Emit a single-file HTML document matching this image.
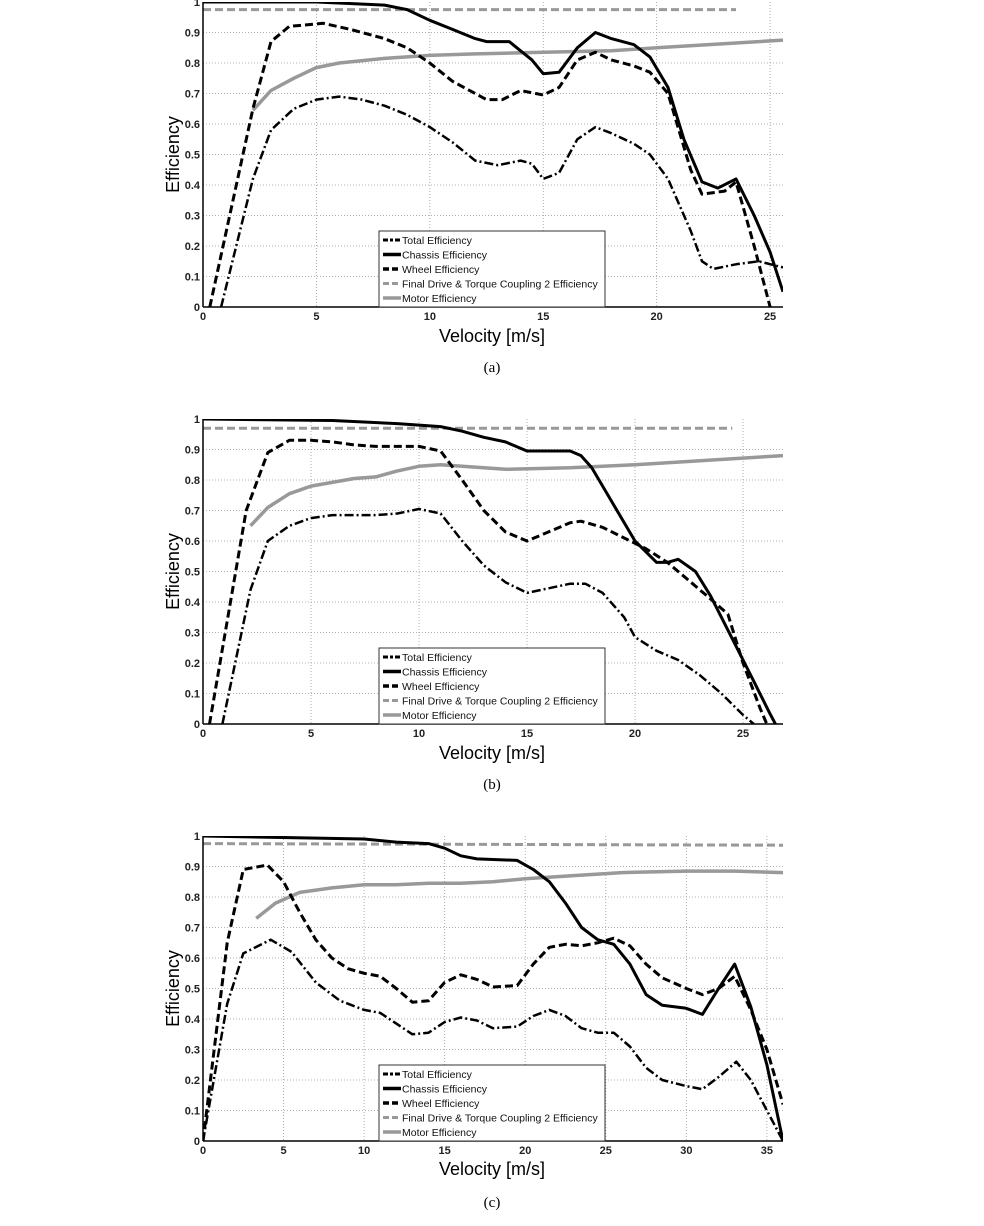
<!DOCTYPE html>
<html><head><meta charset="utf-8"><style>
html,body{margin:0;padding:0;background:#fff;}
svg{display:block;font-family:"Liberation Sans",Arial,sans-serif;}
</style></head><body>
<svg id="s" width="984" height="1226" xmlns="http://www.w3.org/2000/svg"></svg>
<script>
const S=document.getElementById('s');
let h='';
const L=203,R=783;
const panels=[
 {top:2,bot:307,xmax:25.57,ticks:[0,5,10,15,20,25],lab:'(a)',vy:335,ly:367,
  tot:[[0.8,0],[2.2,0.42],[3,0.58],[4,0.65],[5,0.68],[6,0.69],[7,0.68],[8,0.66],[9,0.63],[10,0.59],[11,0.54],[12,0.48],[13,0.465],[14,0.48],[14.5,0.47],[15,0.42],[15.7,0.44],[16.5,0.55],[17.3,0.59],[18,0.57],[19,0.535],[19.7,0.5],[20.5,0.42],[21.5,0.25],[22,0.15],[22.5,0.125],[23.5,0.14],[24.5,0.15],[25.57,0.13]],
  ch:[[0,1],[5,1],[8,0.99],[9,0.975],[10,0.94],[11,0.91],[12,0.88],[12.5,0.87],[13.5,0.87],[14,0.84],[14.5,0.81],[15,0.765],[15.7,0.77],[16.5,0.85],[17.3,0.9],[18,0.88],[19,0.86],[19.7,0.82],[20.5,0.72],[21.2,0.55],[22,0.41],[22.7,0.39],[23.5,0.42],[24.3,0.3],[25,0.18],[25.57,0.05]],
  wh:[[0.3,0],[2.2,0.65],[3,0.87],[3.8,0.92],[5.3,0.93],[6.5,0.91],[8,0.88],[9,0.85],[10,0.8],[11,0.74],[12,0.7],[12.5,0.68],[13.2,0.68],[14,0.71],[15,0.695],[15.7,0.72],[16.5,0.81],[17.3,0.835],[18,0.81],[19,0.79],[19.7,0.77],[20.5,0.7],[21.5,0.45],[22,0.37],[23,0.38],[23.5,0.41],[24.3,0.2],[25,0]],
  fd:[[0,0.975],[23.5,0.975]],
  mo:[[2.2,0.645],[3,0.71],[4,0.75],[5,0.785],[6,0.8],[8,0.815],[10,0.825],[12,0.83],[15,0.835],[18,0.84],[20,0.85],[25.57,0.875]]},
 {top:419,bot:724,xmax:26.85,ticks:[0,5,10,15,20,25],lab:'(b)',vy:752,ly:784,
  tot:[[0.9,0],[2.2,0.44],[3,0.6],[4,0.65],[5,0.675],[6,0.685],[8,0.685],[9,0.69],[10,0.705],[11,0.69],[12,0.6],[13,0.52],[14,0.465],[15,0.43],[16,0.445],[17,0.46],[17.7,0.46],[18.5,0.43],[19.5,0.35],[20,0.285],[21,0.24],[22,0.21],[23,0.16],[24,0.1],[25,0.03],[25.5,0]],
  ch:[[0,1],[6,0.995],[9,0.985],[11,0.975],[12,0.96],[13,0.94],[14,0.925],[15,0.895],[17,0.895],[17.5,0.88],[18,0.84],[19,0.72],[20,0.6],[21,0.53],[21.5,0.53],[22,0.54],[22.8,0.5],[23.5,0.42],[24.5,0.28],[25.5,0.14],[26.2,0.04],[26.5,0]],
  wh:[[0.3,0],[2,0.7],[3,0.89],[4,0.93],[5,0.93],[6,0.925],[7,0.915],[8,0.91],[10,0.91],[11,0.895],[12,0.8],[13,0.7],[14,0.63],[15,0.6],[16,0.63],[17,0.66],[17.5,0.665],[18.5,0.645],[19.5,0.61],[20.5,0.575],[21.5,0.53],[22.5,0.47],[23.5,0.41],[24.3,0.36],[25,0.2],[25.8,0.05],[26.1,0]],
  fd:[[0,0.97],[24.5,0.97]],
  mo:[[2.2,0.65],[3,0.71],[4,0.755],[5,0.78],[7,0.805],[8,0.81],[9,0.83],[10,0.845],[11,0.85],[12,0.845],[14,0.835],[17,0.84],[20,0.85],[26.85,0.88]]},
 {top:836,bot:1141,xmax:36,ticks:[0,5,10,15,20,25,30,35],lab:'(c)',vy:1168,ly:1202,
  tot:[[0,0],[1.5,0.45],[2.5,0.615],[4.2,0.66],[5.5,0.62],[7,0.52],[8.5,0.46],[10,0.43],[11,0.42],[12,0.385],[13,0.35],[14,0.355],[15,0.39],[16,0.405],[17,0.395],[18,0.37],[19.5,0.375],[20.5,0.41],[21.5,0.43],[22.5,0.41],[23.5,0.37],[24.5,0.355],[25.5,0.355],[26.5,0.31],[27.5,0.24],[28.5,0.2],[30,0.18],[31,0.17],[32,0.21],[33.1,0.26],[34,0.2],[35,0.1],[36,0]],
  ch:[[0,1],[10,0.99],[12,0.98],[14,0.975],[15,0.96],[16,0.935],[17,0.925],[19.5,0.92],[20.5,0.89],[21.5,0.85],[22.5,0.78],[23.5,0.7],[24.5,0.66],[25.5,0.645],[26.5,0.58],[27.5,0.48],[28.5,0.445],[30,0.435],[31,0.415],[32,0.5],[33,0.58],[34,0.44],[35,0.25],[36,0]],
  wh:[[0,0],[1.5,0.65],[2.5,0.89],[4,0.905],[5,0.85],[6,0.75],[7,0.66],[8,0.6],[9,0.565],[10,0.55],[11,0.54],[12,0.5],[13,0.455],[14,0.46],[15,0.52],[16,0.545],[17,0.53],[18,0.505],[19.5,0.51],[20.5,0.58],[21.5,0.635],[22.5,0.645],[23.5,0.64],[24.5,0.65],[25.5,0.665],[26.5,0.64],[27.5,0.58],[28.5,0.535],[30,0.5],[31,0.48],[32,0.5],[33,0.54],[34,0.43],[35,0.3],[36,0.12]],
  fd:[[0,0.975],[36,0.97]],
  mo:[[3.3,0.73],[4.5,0.78],[6,0.815],[8,0.83],[10,0.84],[12,0.84],[14,0.845],[16,0.845],[18,0.85],[20,0.86],[23,0.87],[26,0.88],[30,0.885],[33,0.885],[36,0.88]]}
];
panels.forEach(p=>{
 const X=v=>L+(R-L)*v/p.xmax, Y=v=>p.bot-(p.bot-p.top)*v;
 h+=`<defs><clipPath id="c${p.top}"><rect x="${L}" y="${p.top}" width="${R-L}" height="${p.bot-p.top}"/></clipPath></defs>`;
 h+=`<rect x="${L}" y="${p.top}" width="${R-L}" height="${p.bot-p.top}" fill="#fff"/>`;
 for(let i=1;i<10;i++){const y=Y(i/10);h+=`<line x1="${L}" x2="${R}" y1="${y}" y2="${y}" stroke="#999" stroke-width="0.8" stroke-dasharray="1,2"/>`;}
 p.ticks.forEach(t=>{if(t>0){const x=X(t);h+=`<line x1="${x}" x2="${x}" y1="${p.top}" y2="${p.bot}" stroke="#999" stroke-width="0.8" stroke-dasharray="1,2"/>`;}
  h+=`<text x="${X(t)}" y="${p.bot+13}" font-size="11" font-weight="bold" fill="#222" text-anchor="middle">${t}</text>`;});
 for(let i=0;i<=10;i++){const y=Y(i/10);h+=`<text x="${L-3}" y="${y+4}" font-size="11" font-weight="bold" fill="#222" text-anchor="end">${i==0?'0':i==10?'1':'0.'+i}</text>`;}
 const pl=(d,st)=>`<polyline clip-path="url(#c${p.top})" fill="none" stroke-linejoin="round" points="${d.map(q=>X(q[0]).toFixed(1)+','+Y(q[1]).toFixed(1)).join(' ')}" ${st}/>`;
 h+=pl(p.mo,'stroke="#999" stroke-width="3.5"');
 h+=pl(p.fd,'stroke="#999" stroke-width="3" stroke-dasharray="8,4"');
 h+=pl(p.ch,'stroke="#000" stroke-width="3"');
 h+=pl(p.wh,'stroke="#000" stroke-width="3" stroke-dasharray="8,4"');
 h+=pl(p.tot,'stroke="#000" stroke-width="2.5" stroke-dasharray="9,3,2,3"');
 h+=`<line x1="${L}" x2="${R}" y1="${p.bot}" y2="${p.bot}" stroke="#000" stroke-width="1.5"/>`;
 h+=`<line x1="${L}" x2="${L}" y1="${p.top}" y2="${p.bot}" stroke="#000" stroke-width="1.5"/>`;
 const lx=379,ly=p.bot-76;
 h+=`<rect x="${lx}" y="${ly}" width="226" height="76" fill="#fff" stroke="#333" stroke-width="1"/>`;
 const items=[['Total Efficiency','stroke="#000" stroke-width="3" stroke-dasharray="5,2,3,2"'],['Chassis Efficiency','stroke="#000" stroke-width="3.5"'],['Wheel Efficiency','stroke="#000" stroke-width="3.5" stroke-dasharray="6,3"'],['Final Drive &amp; Torque Coupling 2 Efficiency','stroke="#999" stroke-width="3" stroke-dasharray="6,3"'],['Motor Efficiency','stroke="#999" stroke-width="3.5"']];
 items.forEach((it,i)=>{const y=ly+9+i*14.5;h+=`<line x1="${lx+4}" x2="${lx+22}" y1="${y}" y2="${y}" ${it[1]}/><text x="${lx+23}" y="${y+4}" font-size="10.5" fill="#111">${it[0]}</text>`;});
 h+=`<text x="492" y="${p.vy+7}" font-size="18" text-anchor="middle">Velocity [m/s]</text>`;
 h+=`<text x="492" y="${p.ly+5}" font-size="15" font-family="Liberation Serif,serif" text-anchor="middle">${p.lab}</text>`;
 const cy=(p.top+p.bot)/2;
 h+=`<text x="179" y="${cy}" font-size="18" text-anchor="middle" transform="rotate(-90 179 ${cy})">Efficiency</text>`;
});
S.innerHTML=h;
</script>
</body></html>
